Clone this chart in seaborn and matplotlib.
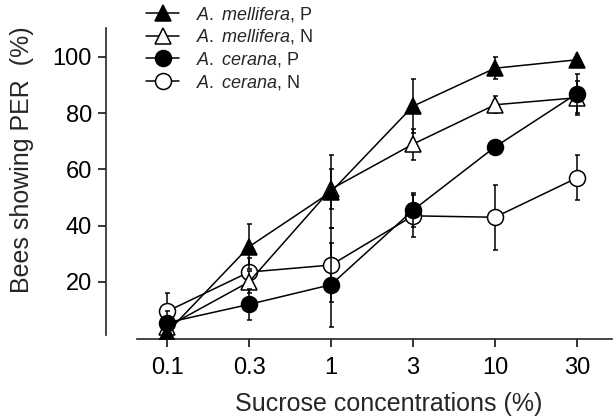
import numpy as np
import pandas as pd
import matplotlib
matplotlib.use("Agg")
import matplotlib.pyplot as plt
import seaborn as sns

# sucrose concentrations (%) and PER responses (%)
conc = ['0.1', '0.3', '1', '3', '10', '30']

mel_p = [2, 32.5, 52, 82.5, 96, 99]
mel_p_err = [2, 8, 13, 9.5, 4, 1]
mel_n = [4, 20, 53, 69, 83, 85.5]
mel_n_err = [2, 4, 7, 5.5, 3, 6]
cer_p = [5.5, 12, 19, 45.5, 68, 87]
cer_p_err = [4, 5.5, 15, 6, 0, 7]
cer_n = [9.5, 23.5, 26, 43.5, 43, 57]
cer_n_err = [6.5, 5, 13, 7.5, 11.5, 8]

labels = [r'$\it{A.\ mellifera}$, P', r'$\it{A.\ mellifera}$, N',
          r'$\it{A.\ cerana}$, P', r'$\it{A.\ cerana}$, N']

sns.set_style("ticks")
plt.rcParams['font.family'] = ['Liberation Sans', 'DejaVu Sans']
plt.rcParams['mathtext.fontset'] = 'custom'
plt.rcParams['mathtext.it'] = 'Liberation Sans:italic'
plt.rcParams['mathtext.rm'] = 'Liberation Sans'

fig = plt.figure(figsize=(6.16, 4.19), dpi=100)
ax = fig.add_axes([106 / 616, 80 / 419, 506 / 616, 311 / 419])

pos = np.arange(len(conc))

# drawing order: open circle, open triangle, filled circle, filled triangle
series = [
    (cer_n, cer_n_err, 'o', 'white', labels[3], 11.5),
    (mel_n, mel_n_err, '^', 'white', labels[1], 12),
    (cer_p, cer_p_err, 'o', 'black', labels[2], 11.5),
    (mel_p, mel_p_err, '^', 'black', labels[0], 12),
]

for i, (vals, err, mk, fc, lab, ms) in enumerate(series):
    df = pd.DataFrame({'x': pos, 'y': vals})
    ax.errorbar(df['x'], df['y'], yerr=err, fmt='none', ecolor='black',
                elinewidth=1.1, capsize=1.8, capthick=1.1, zorder=2 + 2 * i)
    sns.lineplot(data=df, x='x', y='y', ax=ax, color='black', lw=1.1,
                 marker=mk, markersize=ms, markerfacecolor=fc,
                 markeredgecolor='black', markeredgewidth=1.1,
                 zorder=3 + 2 * i, label=lab)

ax.set_xlim(-0.744, 5.427)
ax.set_ylim(-0.3, 110.3)
ax.set_xticks(pos)
ax.set_xticklabels(conc)
ax.set_yticks([20, 40, 60, 80, 100])

ax.spines['top'].set_visible(False)
ax.spines['right'].set_visible(False)
ax.spines['left'].set_bounds(1, 110.3)
ax.spines['bottom'].set_bounds(-0.37, 5.43)
for s in ['left', 'bottom']:
    ax.spines[s].set_linewidth(1.2)
ax.tick_params(axis='both', direction='out', length=6, width=1.1,
               labelsize=17, colors='black', pad=4)
ax.tick_params(axis='x', pad=7)

ax.set_xlabel('Sucrose concentrations (%)', fontsize=18)
ax.set_ylabel('Bees showing PER  (%)', fontsize=18)
ax.xaxis.set_label_coords(0.559, -0.17)
ax.yaxis.set_label_coords(-0.142, 0.576)

h, l = ax.get_legend_handles_labels()
order = [labels.index(x) for x in l]
hl = sorted(zip(order, h, l))
ax.legend([x[1] for x in hl], [x[2] for x in hl], loc='upper left',
          bbox_to_anchor=(144 / 616, 1 - 3 / 419), bbox_transform=fig.transFigure,
          frameon=False, fontsize=13, handlelength=1.85, handletextpad=0.95,
          labelspacing=0.2, borderaxespad=0, borderpad=0.1)

fig.savefig('out.png', dpi=100)
